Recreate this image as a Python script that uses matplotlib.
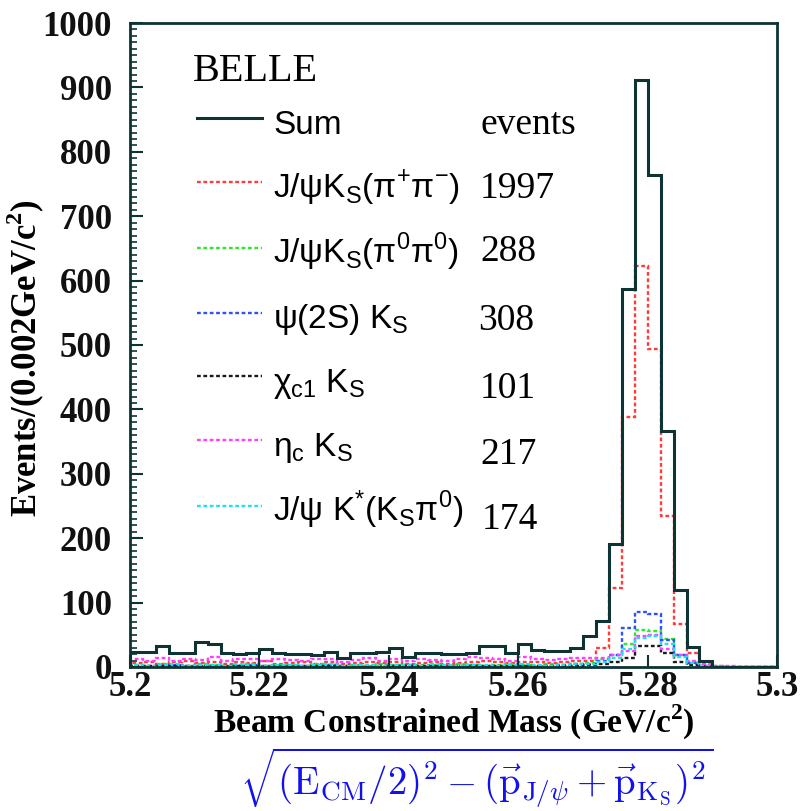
import matplotlib

matplotlib.use("Agg")

import matplotlib.pyplot as plt
import numpy as np
from matplotlib.font_manager import FontProperties
from matplotlib.lines import Line2D
from matplotlib.ticker import MultipleLocator

# 50 bins of 0.002 GeV/c^2 between 5.20 and 5.30
bin_edges = np.linspace(5.2, 5.3, 51)

sum_counts = [24, 24, 33, 21, 21, 38, 36, 21, 20, 21,
              28, 21, 20, 20, 18, 24, 14, 22, 22, 24,
              30, 16, 22, 22, 20, 20, 22, 33, 33, 21,
              35, 26, 25, 25, 30, 48, 72, 191, 587, 911,
              764, 366, 120, 31, 9, 0, 0, 0, 0, 0]
jpsi_pipi = [6, 8, 5, 7, 9, 6, 8, 5, 7, 6,
             9, 5, 6, 8, 5, 7, 4, 6, 8, 6,
             7, 5, 6, 7, 5, 6, 8, 9, 7, 6,
             8, 7, 6, 8, 9, 10, 30, 122, 388, 623,
             494, 234, 66, 22, 5, 0, 0, 0, 0, 0]
jpsi_pi0pi0 = [3, 2, 4, 3, 2, 4, 3, 2, 3, 4,
               2, 3, 3, 2, 4, 3, 2, 3, 2, 4,
               3, 2, 3, 3, 2, 4, 3, 2, 3, 4,
               3, 2, 4, 3, 5, 6, 12, 18, 36, 57,
               56, 44, 18, 8, 3, 1, 0, 0, 0, 0]
psi2s = [2, 1, 2, 3, 1, 2, 2, 1, 2, 3,
         1, 2, 2, 1, 2, 3, 1, 2, 2, 1,
         2, 3, 2, 1, 2, 2, 3, 2, 1, 2,
         3, 2, 2, 3, 4, 5, 9, 18, 60, 85,
         82, 42, 18, 6, 2, 0, 0, 0, 0, 0]
chic1 = [1, 2, 1, 1, 2, 1, 1, 2, 1, 1,
         2, 1, 1, 1, 2, 1, 1, 2, 1, 1,
         1, 2, 1, 1, 2, 1, 1, 1, 2, 1,
         1, 2, 1, 2, 2, 3, 5, 8, 14, 32,
         32, 22, 8, 3, 1, 0, 0, 0, 0, 0]
etac = [12, 10, 14, 9, 13, 11, 16, 10, 12, 13,
        9, 12, 11, 10, 13, 12, 8, 11, 14, 10,
        12, 9, 13, 11, 10, 12, 15, 14, 12, 10,
        16, 12, 11, 13, 14, 14, 14, 18, 25, 48,
        50, 28, 18, 10, 5, 2, 1, 0, 0, 0]
jpsi_kstar = [3, 2, 3, 4, 2, 3, 3, 2, 4, 3,
              2, 3, 3, 2, 3, 4, 2, 3, 3, 2,
              3, 3, 2, 4, 3, 2, 3, 3, 2, 3,
              4, 3, 2, 3, 4, 5, 8, 14, 28, 45,
              48, 36, 15, 6, 2, 0, 0, 0, 0, 0]

labels = ["Sum",
          r"J/ψK$_\mathregular{S}$(π$^\mathregular{+}$π$^\mathregular{-}$)",
          r"J/ψK$_\mathregular{S}$(π$^\mathregular{0}$π$^\mathregular{0}$)",
          r"ψ(2S) K$_\mathregular{S}$",
          r"χ$_\mathregular{c1}$ K$_\mathregular{S}$",
          r"η$_\mathregular{c}$ K$_\mathregular{S}$",
          r"J/ψ K$^\mathregular{*}$(K$_\mathregular{S}$π$^\mathregular{0}$)"]
event_counts = ["events", "1997", "288", "308", "101", "217", "174"]

components = [jpsi_pipi, jpsi_pi0pi0, psi2s, chic1, etac, jpsi_kstar]
colors = ["#ff3b3b", "#2ee82e", "#3050ff", "#1a1a1a", "#ff40ff", "#20e0e8"]
frame_color = "#0e3333"
dots = (0, (1.6, 1.1))

fig = plt.figure(figsize=(8.02, 8.11), dpi=100)
ax = fig.add_axes([0.162, 0.1776, 0.807, 0.794])

for vals, c in zip(components, colors):
    ax.stairs(vals, bin_edges, color=c, lw=1.7, linestyle=dots)
ax.stairs(sum_counts, bin_edges, color=frame_color, lw=2.2)

ax.set_xlim(5.2, 5.3)
ax.set_ylim(0, 1000)
ax.yaxis.set_major_locator(MultipleLocator(100))
ax.yaxis.set_minor_locator(MultipleLocator(10))
ax.set_xticks([5.2, 5.22, 5.24, 5.26, 5.28, 5.3],
              ["5.2", "5.22", "5.24", "5.26", "5.28", "5.3"])
ax.tick_params(axis="both", which="both", direction="in", color=frame_color,
               top=False, right=False)
ax.tick_params(axis="x", which="major", length=9, width=1.5, pad=3)
ax.tick_params(axis="y", which="major", length=9, width=1.5, pad=13)
ax.tick_params(axis="y", which="minor", length=5, width=1.2)
for sp in ax.spines.values():
    sp.set_color(frame_color)
    sp.set_linewidth(2.0)

tick_font = FontProperties(family="Liberation Serif", weight="bold", size=25)
for t in ax.get_xticklabels() + ax.get_yticklabels():
    t.set_fontproperties(tick_font)
    t.set_color("#111")

ax.set_ylabel(r"Events/(0.002GeV/c$^\mathregular{2}$)", family="Liberation Serif",
              weight="bold", size=25)
ax.yaxis.set_label_coords(-0.128, 0.48)
ax.set_xlabel(r"Beam Constrained Mass (GeV/c$^\mathregular{2}$)",
              family="Liberation Serif", weight="bold", size=24, labelpad=-1)

# legend block
handles = [Line2D([], [], color=frame_color, lw=2.2)]
handles += [Line2D([], [], color=c, lw=1.7, linestyle=dots) for c in colors]
ax.legend(handles, labels, loc="upper left", bbox_to_anchor=(0.104, 0.876),
          frameon=False, prop=dict(family="Liberation Sans", size=24),
          handlelength=1.95, handleheight=1.45, handletextpad=0.33,
          labelspacing=0.72, borderpad=0, borderaxespad=0)

ax.text(0.097, 0.925, "BELLE", transform=ax.transAxes, family="Liberation Serif",
        size=29, va="center", ha="left")
num_y = [0.842, 0.742, 0.645, 0.538, 0.432, 0.33, 0.228]
num_x = [0.541, 0.541, 0.541, 0.538, 0.541, 0.541, 0.544]
for s, xx, yy in zip(event_counts, num_x, num_y):
    ax.text(xx, yy, s, transform=ax.transAxes, family="Liberation Serif",
            size=27, va="center", ha="left")

fig.text(0.595, 0.0, r"$\sqrt{(\mathrm{E_{CM}}/2)^2-(\vec{\mathrm{p}}_{\mathrm{J}/\psi}"
         r"+\vec{\mathrm{p}}_{\mathrm{K_S}})^2}$",
         math_fontfamily="cm", color="#1010f0", size=28, ha="center", va="bottom")

fig.savefig("out.png", dpi=100)
plt.close(fig)
